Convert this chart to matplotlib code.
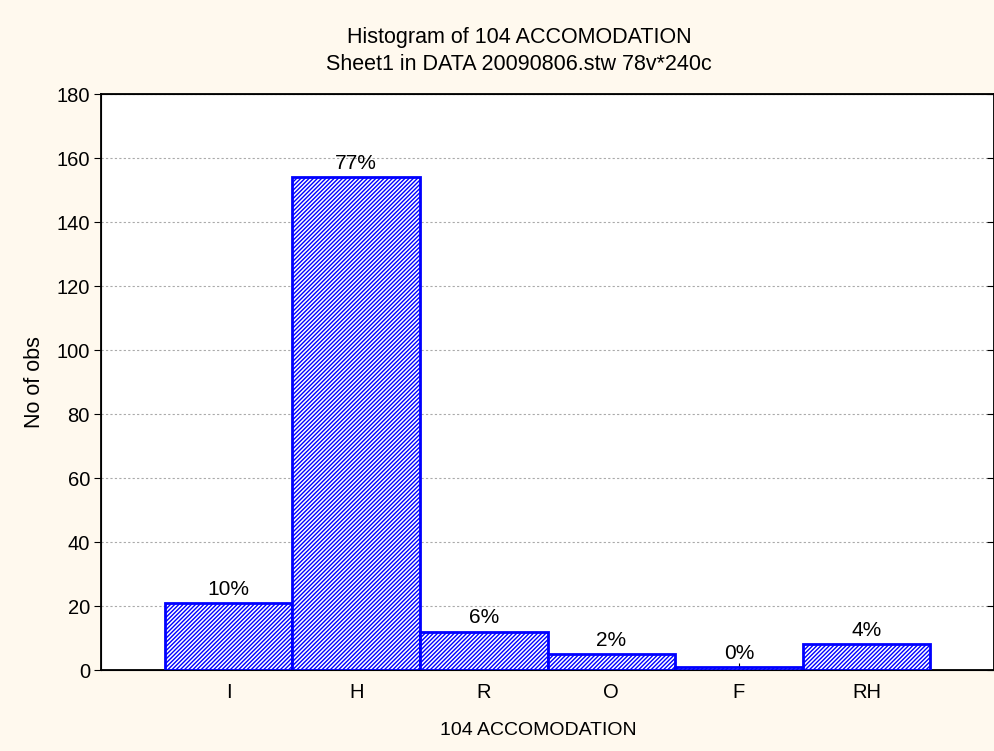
import numpy as np
import matplotlib.pyplot as plt

# dados
categorias = ["I", "H", "R", "O", "F", "RH"]
contagens = [21, 154, 12, 5, 1, 8]
yticks = list(range(0, 181, 20))

plt.rcParams['font.family'] = ['Liberation Sans', 'DejaVu Sans']
plt.rcParams['hatch.color'] = '#3A3AFF'
plt.rcParams['hatch.linewidth'] = 1.0

fig = plt.figure(figsize=(9.94, 7.51), dpi=100, facecolor='#FFF9EE')
ax = fig.add_axes([101 / 994, 1 - 670 / 751, 893 / 994, 576 / 751])
ax.set_facecolor('white')

x = np.arange(len(categorias))
ax.bar(x, contagens, width=1.0, color='white', edgecolor='#0000FF',
       linewidth=2.0, hatch='////////', zorder=3)

total = sum(contagens)
for xi, c in zip(x, contagens):
    ax.text(xi, c + 1.3, f"{round(100 * c / total):.0f}%", ha='center',
            va='bottom', fontsize=15, zorder=4)

ax.set_xlim(-1, 6)
ax.set_ylim(0, 180)
ax.set_xticks(x)
ax.set_xticklabels(categorias, fontsize=14.5)
ax.set_yticks(yticks)
ax.tick_params(axis='y', labelsize=14.5, direction='out', length=5, pad=3)
ax.tick_params(axis='x', direction='in', length=5, pad=9)
ax.yaxis.grid(True, linestyle=(0, (2, 2)), color='#AAAAAA', linewidth=0.8, zorder=0)

# ticks do lado direito (para dentro)
ax2 = ax.twinx()
ax2.set_ylim(0, 180)
ax2.set_yticks(yticks)
ax2.tick_params(axis='y', direction='in', length=5, labelright=False)

for s in ax.spines.values():
    s.set_linewidth(1.3)

ax.set_ylabel("No of obs", fontsize=15.5, labelpad=8)
ax.set_xlabel("104 ACCOMODATION", fontsize=14)
ax.xaxis.set_label_coords(0.49, -0.09)
fig.text(0.522, 1 - 37 / 751, "Histogram of 104 ACCOMODATION", ha='center',
         va='center', fontsize=15.5)
fig.text(0.522, 1 - 64 / 751, "Sheet1 in DATA 20090806.stw 78v*240c", ha='center',
         va='center', fontsize=15.5)

plt.savefig("out.png", dpi=100, facecolor=fig.get_facecolor())
